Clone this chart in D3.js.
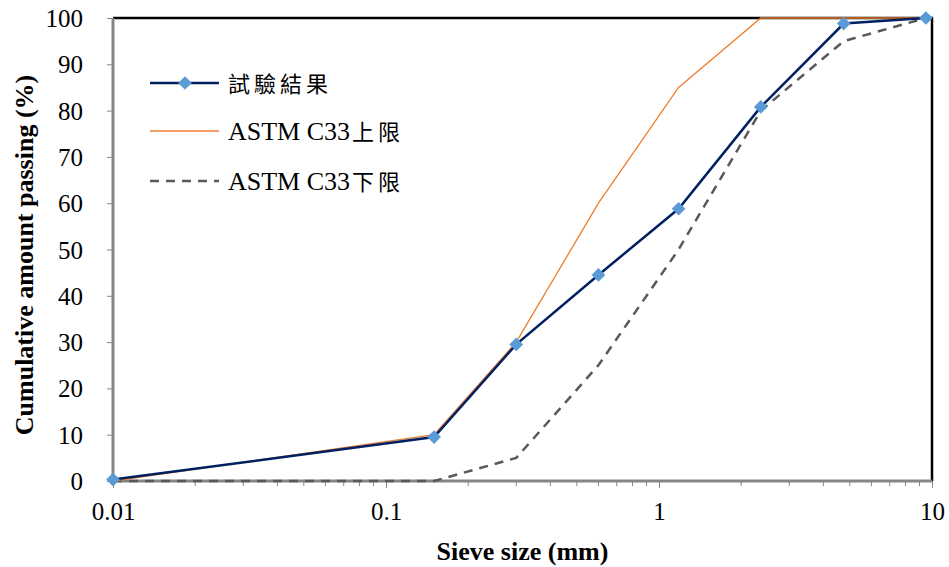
<!DOCTYPE html>
<html><head><meta charset="utf-8">
<script src="https://cdn.jsdelivr.net/npm/d3@7"></script>
<style>body{margin:0;background:#fff;}svg{display:block;}</style>
</head><body>
<script>
const sieveSizes = [0.01, 0.15, 0.3, 0.6, 1.18, 2.36, 4.75, 9.5];
const testResult = [0.3, 9.5, 29.5, 44.5, 58.8, 80.8, 98.8, 100];
const upperLimit = [0, 10, 30, 60, 85, 100, 100, 100];
const lowerLimit = [0, 0, 5, 25, 50, 80, 95, 100];
const xTicks = [0.01, 0.1, 1, 10];
const xTickLabels = ["0.01", "0.1", "1", "10"];
const yTicks = [0, 10, 20, 30, 40, 50, 60, 70, 80, 90, 100];
const seriesLatin = ["", "ASTM C33", "ASTM C33"];
const seriesCJK = ["試驗結果", "上限", "下限"];

const W = 949, H = 567;
const L = 113, R = 932, T = 18, B = 481;
const serif = "'Liberation Serif','Times New Roman',serif";
const cjk = "'Noto Sans CJK TC','Noto Sans CJK SC',serif";

const svg = d3.select("body").append("svg").attr("width", W).attr("height", H);
const x = d3.scaleLog().domain([0.01, 10]).range([L, R]);
const y = d3.scaleLinear().domain([0, 100]).range([B, T]);

svg.append("path").attr("d", `M${L},${T}H${R}V${B}`).attr("fill", "none")
  .attr("stroke", "#000").attr("stroke-width", 2.5);

const yAxis = svg.append("g").attr("transform", `translate(${L},0)`)
  .call(d3.axisLeft(y).tickValues(yTicks).tickSize(6).tickPadding(24).tickFormat(d3.format("d")));
yAxis.attr("font-size", null).attr("font-family", null);
yAxis.select(".domain").attr("stroke", "#868686").attr("stroke-width", 3).attr("d", `M0,${B + 1.5}V${T}`);
yAxis.selectAll(".tick line").attr("stroke", "#868686").attr("stroke-width", 1);
yAxis.selectAll(".tick text").style("font-family", serif).style("font-size", "25px").attr("fill", "#000").attr("dy", "0.34em");

const minor = [];
for (let e = -2; e < 1; e++) for (let m = 2; m <= 9; m++) minor.push(m * Math.pow(10, e));
const gx = svg.append("g").attr("transform", `translate(0,${B})`);
gx.selectAll("line.minor").data(minor).join("line").attr("class", "minor")
  .attr("x1", d => x(d)).attr("x2", d => x(d)).attr("y1", 0).attr("y2", 5)
  .attr("stroke", "#868686").attr("stroke-width", 1);
const xa = gx.append("g").call(d3.axisBottom(x).tickValues(xTicks).tickSize(7).tickPadding(14)
  .tickFormat((d, i) => xTickLabels[i]));
xa.attr("font-size", null).attr("font-family", null);
xa.select(".domain").attr("stroke", "#868686").attr("stroke-width", 3).attr("d", `M${L - 1.5},0H${R}`);
xa.selectAll(".tick line").attr("stroke", "#868686").attr("stroke-width", 1);
xa.selectAll(".tick text").style("font-family", serif).style("font-size", "25px").attr("fill", "#000");

const pts = vals => sieveSizes.map((s, i) => [x(s), y(vals[i])]);
svg.append("path").attr("d", d3.line()(pts(lowerLimit)))
  .attr("fill", "none").attr("stroke", "#595959").attr("stroke-width", 2.5).attr("stroke-dasharray", "9,7");
svg.append("path").attr("d", d3.line()(pts(upperLimit)))
  .attr("fill", "none").attr("stroke", "#ED7D31").attr("stroke-width", 1.3);
svg.append("path").attr("d", d3.line()(pts(testResult)))
  .attr("fill", "none").attr("stroke", "#002060").attr("stroke-width", 2.5);
const diamond = d3.symbol().type(d3.symbolDiamond2).size(120);
svg.selectAll("path.mk").data(pts(testResult)).join("path").attr("class", "mk")
  .attr("d", diamond).attr("transform", d => `translate(${d[0]},${d[1]})`)
  .attr("fill", "#5B9BD5");

const lg = svg.append("g");
const ly = [83, 131, 181];
lg.append("line").attr("x1", 150).attr("x2", 219).attr("y1", ly[0]).attr("y2", ly[0]).attr("stroke", "#002060").attr("stroke-width", 2.5);
lg.append("path").attr("d", diamond).attr("transform", `translate(185,${ly[0]})`).attr("fill", "#5B9BD5");
lg.append("line").attr("x1", 150).attr("x2", 219).attr("y1", ly[1]).attr("y2", ly[1]).attr("stroke", "#ED7D31").attr("stroke-width", 1.3);
lg.append("line").attr("x1", 150).attr("x2", 219).attr("y1", ly[2]).attr("y2", ly[2]).attr("stroke", "#595959").attr("stroke-width", 2.5).attr("stroke-dasharray", "9,7");
seriesCJK.forEach((n, i) => {
  const t = lg.append("text").attr("x", 228).attr("y", ly[i] + 9).attr("fill", "#000");
  if (seriesLatin[i]) t.append("tspan").style("font-family", serif).style("font-size", "26px").text(seriesLatin[i]);
  t.append("tspan").attr("dx", seriesLatin[i] ? 2 : 0).style("font-family", cjk).style("font-size", "22px").attr("letter-spacing", 4).text(n);
});

svg.append("text").attr("x", (L + R) / 2).attr("y", 560).attr("text-anchor", "middle")
  .style("font-family", serif).attr("font-weight", "bold").style("font-size", "26px").text("Sieve size (mm)");
svg.append("text").attr("transform", `translate(33,255) rotate(-90)`).attr("text-anchor", "middle")
  .style("font-family", serif).attr("font-weight", "bold").style("font-size", "26px").text("Cumulative amount passing (%)");
</script>
</body></html>
